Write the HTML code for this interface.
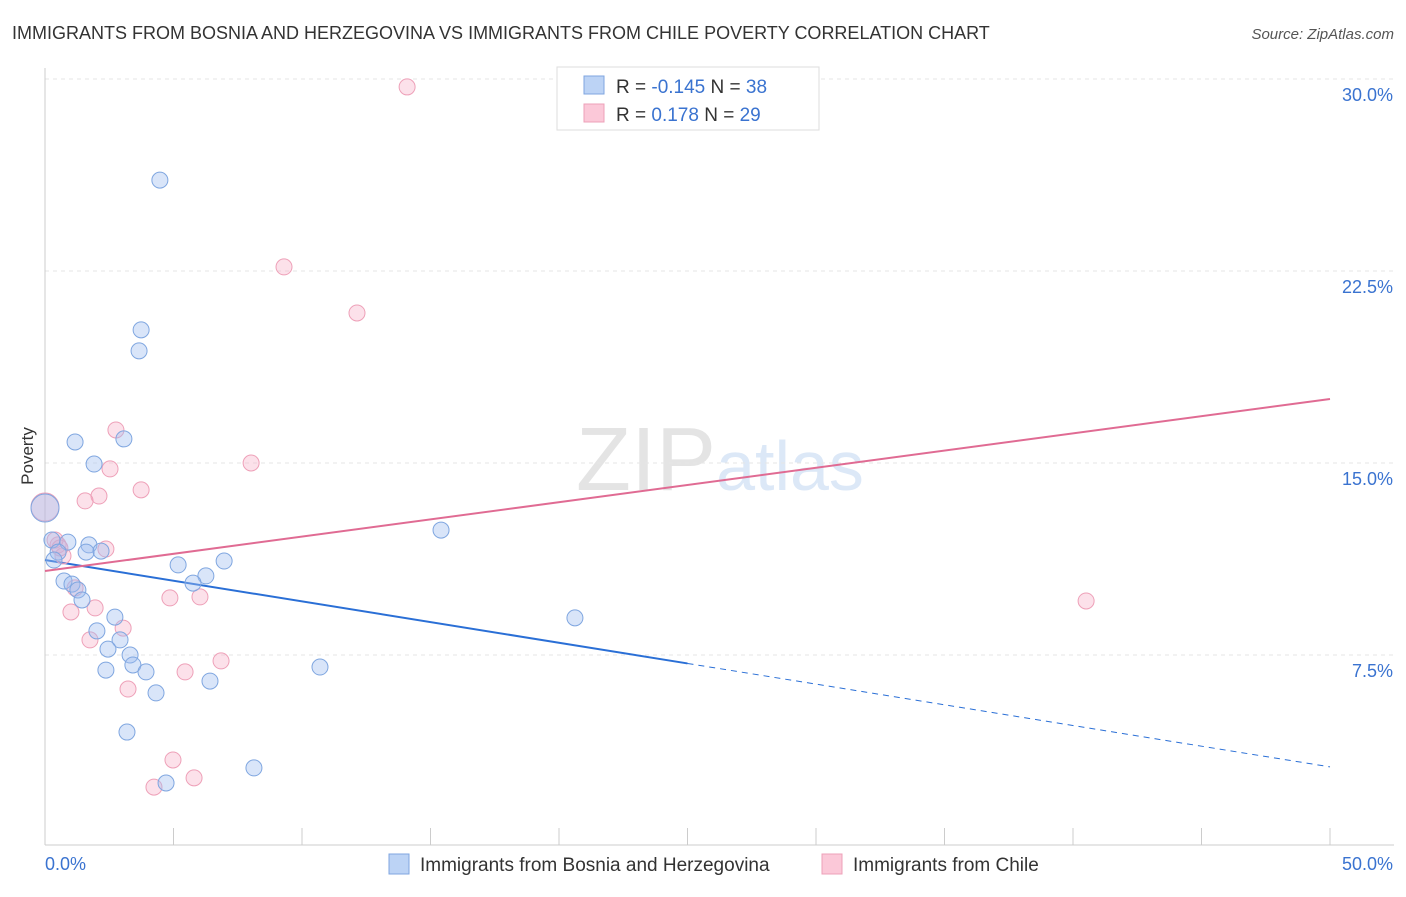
<!DOCTYPE html>
<html><head><meta charset="utf-8">
<style>
body{margin:0;background:#fff;font-family:"Liberation Sans",sans-serif;}
svg text{font-family:"Liberation Sans",sans-serif;}
</style></head>
<body>
<svg id="chart" width="1406" height="892" xmlns="http://www.w3.org/2000/svg">
<text x="12" y="39" font-size="18" fill="#333">IMMIGRANTS FROM BOSNIA AND HERZEGOVINA VS IMMIGRANTS FROM CHILE POVERTY CORRELATION CHART</text>
<text x="1394" y="39" font-size="15" fill="#555" text-anchor="end" font-style="italic">Source: ZipAtlas.com</text>
<text x="720" y="490" font-size="90" text-anchor="middle" fill="#e4e4e4" font-family="Liberation Serif">ZIP<tspan fill="#dce8f7" font-family="Liberation Sans" font-size="70">atlas</tspan></text>
<text transform="translate(33,456) rotate(-90)" font-size="17" fill="#333" text-anchor="middle">Poverty</text>
<g id="grid"></g><g id="axes"></g><g id="lines"></g><g id="pts"></g>
<g>
<rect x="557" y="67" width="262" height="63" fill="#fff" stroke="#ddd"/>
<rect x="584" y="76" width="20" height="18" fill="#bcd3f5" stroke="#7fa6e0"/>
<rect x="584" y="104" width="20" height="18" fill="#fbc8d8" stroke="#eea0b8"/>
<text x="616" y="93" font-size="19" fill="#333">R = <tspan fill="#3a73d0">-0.145</tspan>   N = <tspan fill="#3a73d0">38</tspan></text>
<text x="616" y="121" font-size="19" fill="#333">R =   <tspan fill="#3a73d0">0.178</tspan>   N = <tspan fill="#3a73d0">29</tspan></text>
</g>
<g>
<rect x="389" y="854" width="20" height="20" fill="#bcd3f5" stroke="#7fa6e0"/>
<text x="420" y="871" font-size="19" fill="#333">Immigrants from Bosnia and Herzegovina</text>
<rect x="822" y="854" width="20" height="20" fill="#fbc8d8" stroke="#eea0b8"/>
<text x="853" y="871" font-size="19" fill="#333">Immigrants from Chile</text>
</g>
</svg>
<script>
const blueX=[4.47,3.74,3.66,1.17,3.07,1.91,0,0.27,0.89,1.71,0.51,1.6,2.18,0.35,5.18,6.97,6.26,5.76,0.74,1.05,1.28,1.44,2.72,2.02,2.92,2.45,3.31,3.42,3.93,2.37,4.32,6.42,10.7,3.19,4.71,8.13,15.41,20.62];
const blueY=[26.05,20.2,19.38,15.82,15.94,14.96,13.24,11.99,11.91,11.8,11.52,11.52,11.56,11.21,11.02,11.17,10.59,10.31,10.39,10.27,10.04,9.65,8.98,8.44,8.09,7.73,7.5,7.11,6.84,6.91,6.02,6.48,7.03,4.49,2.5,3.09,12.38,8.95];
const pinkX=[14.09,9.3,12.14,2.76,2.53,8.02,3.74,2.1,1.56,0,0.51,0.7,2.37,1.17,1.01,1.95,4.86,6.03,3.04,1.75,6.85,5.45,3.23,4.98,5.8,4.24,40.51,0.39,0.58];
const pinkY=[29.69,22.66,20.86,16.29,14.77,15.0,13.95,13.71,13.52,13.28,11.8,11.37,11.64,10.12,9.18,9.34,9.73,9.77,8.55,8.09,7.27,6.84,6.17,3.4,2.7,2.34,9.61,11.99,11.68];
const yTicks=[7.5,15,22.5,30];
const yTickLabels=["7.5%","15.0%","22.5%","30.0%"];
const xTickVals=[0,5,10,15,20,25,30,35,40,45,50];
const blueTrend=[11.21,3.13];
const pinkTrend=[10.78,17.5];
const NS="http://www.w3.org/2000/svg";
const xs=v=>45+v/50*1285;
const ys=v=>847-v*25.6;
function mk(tag,attrs,parent){const e=document.createElementNS(NS,tag);for(const k in attrs)e.setAttribute(k,attrs[k]);document.getElementById(parent).appendChild(e);return e;}
yTicks.forEach((t,i)=>{
 const l=mk('line',{x1:45,x2:1394,y1:ys(t),y2:ys(t),stroke:'#e6e6e6','stroke-dasharray':'4,4'},'grid');
 
 
 const tx=mk('text',{x:1393,y:ys(t)+22,'font-size':18,fill:'#3a73d0','text-anchor':'end'},'grid');
 tx.textContent=yTickLabels[i];
 
 
});
const ax=mk('line',{x1:45,x2:1394,y1:845,y2:845,stroke:'#ccc'},'axes');


const ay=mk('line',{x1:45,x2:45,y1:68,y2:845,stroke:'#ccc'},'axes');


xTickVals.forEach(v=>{
 const t=mk('line',{x1:xs(v),x2:xs(v),y1:828,y2:845,stroke:'#ccc'},'axes');
 
 
});
const xl0=mk('text',{x:45,y:870,'font-size':18,fill:'#3a73d0'},'axes');xl0.textContent='0.0%';


const xl1=mk('text',{x:1393,y:870,'font-size':18,fill:'#3a73d0','text-anchor':'end'},'axes');xl1.textContent='50.0%';


function drawPts(X,Y,fill,stroke,name){
 X.forEach((x,i)=>{
  const r=(x===0)?14:8;
  const c=mk('circle',{cx:xs(x),cy:ys(Y[i]),r:r,fill:fill,stroke:stroke,'stroke-width':1},'pts');
  
  
 });
}
drawPts(pinkX,pinkY,'rgba(245,170,195,0.35)','#eea0b8','chile-point');
drawPts(blueX,blueY,'rgba(160,190,240,0.4)','#7fa6e0','bosnia-point');
const bm=blueTrend[0]+(blueTrend[1]-blueTrend[0])*0.5;
const b1=mk('line',{x1:xs(0),y1:ys(blueTrend[0]),x2:xs(25),y2:ys(bm),stroke:'#2a6fd6','stroke-width':2},'lines');


const b2=mk('line',{x1:xs(25),y1:ys(bm),x2:xs(50),y2:ys(blueTrend[1]),stroke:'#2a6fd6','stroke-width':1,'stroke-dasharray':'6,5'},'lines');


const p1=mk('line',{x1:xs(0),y1:ys(pinkTrend[0]),x2:xs(50),y2:ys(pinkTrend[1]),stroke:'#e06b93','stroke-width':2},'lines');


</script>
</body></html>
